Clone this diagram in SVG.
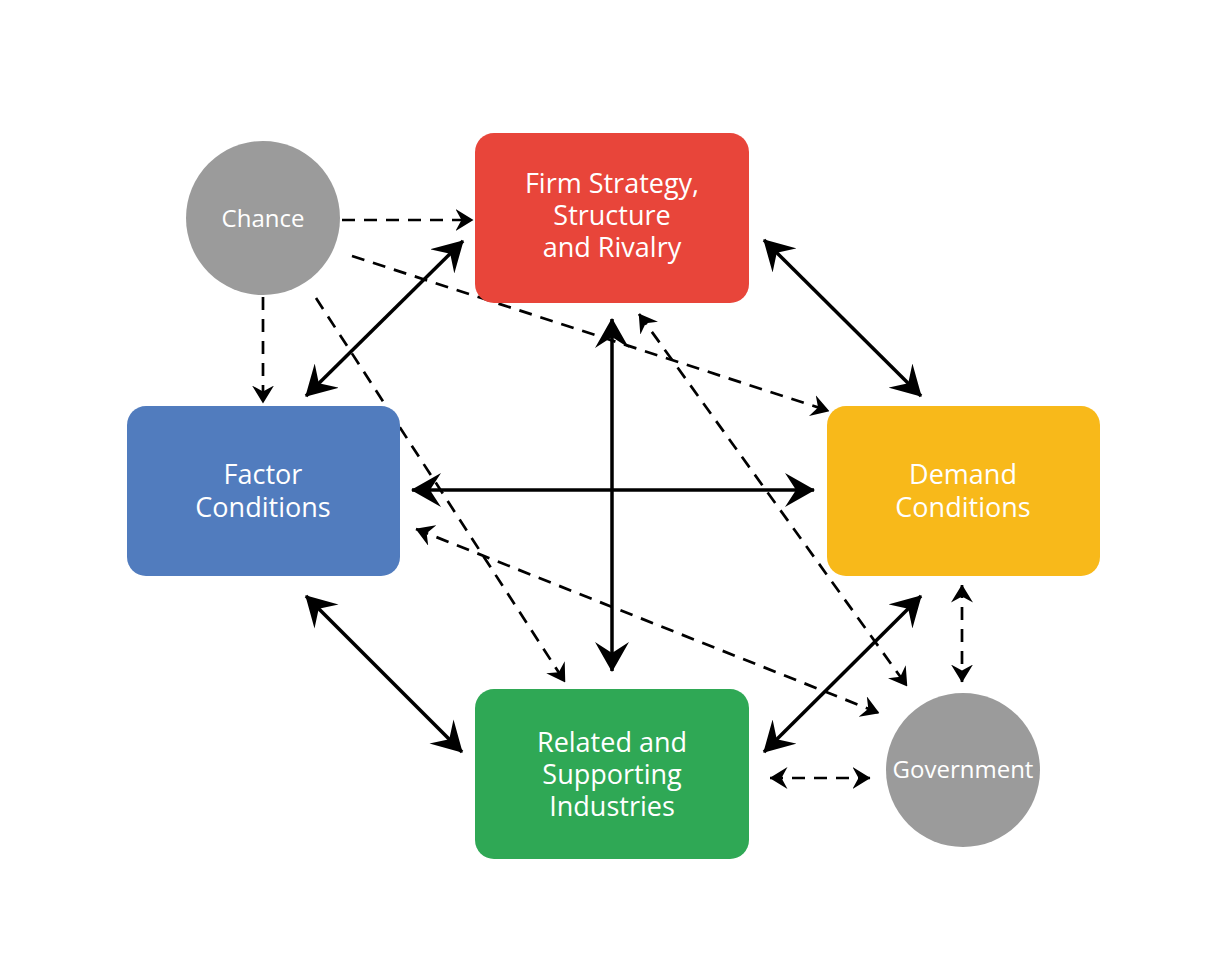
<svg xmlns="http://www.w3.org/2000/svg" width="1225" height="980" viewBox="0 0 1225 980">
<style>
.lbl{font-family:"Open Sans","Noto Sans","Liberation Sans",sans-serif;font-size:24px;fill:#FFFFFF;text-anchor:middle}
.box{font-size:27px}
.solid{stroke:#000;stroke-width:3.5;fill:none;marker-start:url(#big);marker-end:url(#big)}
.dash{stroke:#000;stroke-width:2.7;fill:none;stroke-dasharray:13 9}
.one{marker-end:url(#small)}
.two{marker-start:url(#small);marker-end:url(#small)}
</style>
<defs>
<marker id="big" markerUnits="userSpaceOnUse" viewBox="0 0 30 34" markerWidth="30" markerHeight="34" refX="29" refY="17" orient="auto-start-reverse">
<path d="M30,17 L0,0 L11,17 L0,34 Z" fill="#000"/>
</marker>
<marker id="small" markerUnits="userSpaceOnUse" viewBox="0 0 18 22" markerWidth="18" markerHeight="22" refX="17.5" refY="11" orient="auto-start-reverse">
<path d="M18,11 L0,0 L6,11 L0,22 Z" fill="#000"/>
</marker>
</defs>
<rect width="1225" height="980" fill="#FFFFFF"/>
<g id="connectors">
<line class="solid" x1="463" y1="241" x2="306" y2="396"/>
<line class="solid" x1="764" y1="240" x2="921" y2="396"/>
<line class="solid" x1="306" y1="596" x2="462" y2="752"/>
<line class="solid" x1="921" y1="596" x2="764" y2="752"/>
<line class="solid" x1="412" y1="490" x2="814" y2="490"/>
<line class="solid" x1="612" y1="319" x2="612" y2="671"/>
<line class="dash one" x1="342" y1="220" x2="473" y2="220"/>
<line class="dash one" x1="263" y1="297" x2="263" y2="403"/>
<line class="dash one" x1="352" y1="256" x2="829" y2="411"/>
<line class="dash one" x1="316" y1="298" x2="565" y2="682"/>
<line class="dash two" x1="639" y1="314" x2="907" y2="686"/>
<line class="dash two" x1="416" y1="529" x2="879" y2="713"/>
<line class="dash two" x1="962" y1="585" x2="962" y2="682"/>
<line class="dash two" x1="770" y1="778" x2="870" y2="778"/>
</g>
<g id="chance">
<circle cx="263" cy="218" r="77" fill="#9B9B9B"/>
<text class="lbl" x="263" y="227">Chance</text>
</g>
<g id="government">
<circle cx="963" cy="770" r="77" fill="#9B9B9B"/>
<text class="lbl" x="963" y="778">Government</text>
</g>
<g id="firm">
<rect x="475" y="133" width="274" height="170" rx="19" fill="#E8453A"/>
<text class="lbl box" x="612" y="193">Firm Strategy,</text>
<text class="lbl box" x="612" y="225">Structure</text>
<text class="lbl box" x="612" y="257">and Rivalry</text>
</g>
<g id="factor">
<rect x="127" y="406" width="273" height="170" rx="19" fill="#517CBE"/>
<text class="lbl box" x="263" y="484">Factor</text>
<text class="lbl box" x="263" y="517">Conditions</text>
</g>
<g id="demand">
<rect x="827" y="406" width="273" height="170" rx="19" fill="#F8B91A"/>
<text class="lbl box" x="963" y="484">Demand</text>
<text class="lbl box" x="963" y="517">Conditions</text>
</g>
<g id="related">
<rect x="475" y="689" width="274" height="170" rx="19" fill="#2FA855"/>
<text class="lbl box" x="612" y="752">Related and</text>
<text class="lbl box" x="612" y="784">Supporting</text>
<text class="lbl box" x="612" y="816">Industries</text>
</g>
</svg>
